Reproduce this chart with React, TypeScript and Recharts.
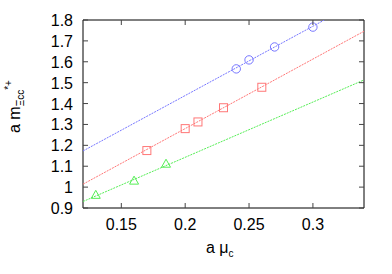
import React from "react";
import { ComposedChart, XAxis, YAxis, Scatter, Line, ReferenceArea } from "recharts";

const xTicks = [0.15, 0.2, 0.25, 0.3];
const yTicks = [0.9, 1.0, 1.1, 1.2, 1.3, 1.4, 1.5, 1.6, 1.7, 1.8];

const bluePoints = [
  { x: 0.24, y: 1.566 },
  { x: 0.25, y: 1.609 },
  { x: 0.27, y: 1.671 },
  { x: 0.3, y: 1.766 },
];
const redPoints = [
  { x: 0.17, y: 1.175 },
  { x: 0.2, y: 1.28 },
  { x: 0.21, y: 1.312 },
  { x: 0.23, y: 1.38 },
  { x: 0.26, y: 1.478 },
];
const greenPoints = [
  { x: 0.13, y: 0.963 },
  { x: 0.16, y: 1.031 },
  { x: 0.185, y: 1.112 },
];
const blueFit = [
  { x: 0.12, y: 1.173 },
  { x: 0.309, y: 1.8 },
];
const redFit = [
  { x: 0.12, y: 1.014 },
  { x: 0.34, y: 1.746 },
];
const greenFit = [
  { x: 0.12, y: 0.931 },
  { x: 0.34, y: 1.513 },
];

const BLUE = "#7777ff";
const RED = "#ff7777";
const GREEN = "#55ee55";
const FONT = "'Liberation Sans', Arial, sans-serif";

const W = 392;
const H = 274;
const M = { top: 20, right: 28, bottom: 0, left: 0 };
const Y_AXIS_W = 83;
const X_AXIS_H = 66;
const PL = M.left + Y_AXIS_W;
const PR = W - M.right;
const PT = M.top;
const PB = H - M.bottom - X_AXIS_H;
const TICK = 5;

const CircleShape = (p: any) => (
  <circle cx={p.cx} cy={p.cy} r={4.2} fill="none" stroke={BLUE} strokeWidth={1} />
);
const SquareShape = (p: any) => (
  <rect x={p.cx - 4} y={p.cy - 4} width={8} height={8} fill="none" stroke={RED} strokeWidth={1} />
);
const TriShape = (p: any) => (
  <polygon
    points={`${p.cx},${p.cy - 4.5} ${p.cx + 4.5},${p.cy + 3.5} ${p.cx - 4.5},${p.cy + 3.5}`}
    fill="none"
    stroke={GREEN}
    strokeWidth={1}
  />
);

const fmtY = (v: number) => String(Number(v.toFixed(1)));
const fmtX = (v: number) => String(Number(v.toFixed(2)));

const XTick = (p: any) => {
  const x = p.x;
  return (
    <g>
      <line x1={x} x2={x} y1={PB} y2={PB - TICK} stroke="#444" strokeWidth={1} />
      <line x1={x} x2={x} y1={PT} y2={PT + TICK} stroke="#444" strokeWidth={1} />
      <text x={x} y={PB + 22} textAnchor="middle" fontFamily={FONT} fontSize={16} fill="#000">
        {fmtX(p.payload.value)}
      </text>
    </g>
  );
};

const YTick = (p: any) => {
  const y = p.y;
  return (
    <g>
      <line x1={PL} x2={PL + TICK} y1={y} y2={y} stroke="#444" strokeWidth={1} />
      <line x1={PR} x2={PR - TICK} y1={y} y2={y} stroke="#444" strokeWidth={1} />
      <text x={PL - 10} y={y + 6} textAnchor="end" fontFamily={FONT} fontSize={16} fill="#000">
        {fmtY(p.payload.value)}
      </text>
    </g>
  );
};

const YLabel = () => (
  <text
    transform="translate(20,133) rotate(-90)"
    fontFamily={FONT}
    fontSize={16}
    fill="#000"
  >
    <tspan>a m</tspan>
    <tspan fontSize={10} dy={4}>Ξcc</tspan>
    <tspan fontSize={10} dy={-12}>*+</tspan>
  </text>
);

const XLabel = () => (
  <text x={206} y={253} fontFamily={FONT} fontSize={16} fill="#000">
    <tspan>a μ</tspan>
    <tspan fontSize={10} dy={4}>c</tspan>
  </text>
);

export default function App() {
  return (
    <div style={{ position: "fixed", left: 0, top: 0, width: W, height: H, background: "#fff" }}>
      <ComposedChart width={W} height={H} margin={M}>
        <XAxis
          xAxisId="b"
          type="number"
          dataKey="x"
          domain={[0.12, 0.34]}
          ticks={xTicks}
          tick={XTick}
          tickLine={false}
          axisLine={false}
          interval={0}
          height={X_AXIS_H}
          allowDataOverflow
        />
        <YAxis
          yAxisId="l"
          type="number"
          dataKey="y"
          domain={[0.9, 1.8]}
          ticks={yTicks}
          tick={YTick}
          tickLine={false}
          axisLine={false}
          interval={0}
          width={Y_AXIS_W}
          allowDataOverflow
        />
        <Line xAxisId="b" yAxisId="l" data={blueFit} dataKey="y" type="linear" stroke={BLUE} strokeWidth={1} strokeDasharray="2 1" dot={false} activeDot={false} isAnimationActive={false} />
        <Line xAxisId="b" yAxisId="l" data={redFit} dataKey="y" type="linear" stroke={RED} strokeWidth={1} strokeDasharray="2 1" dot={false} activeDot={false} isAnimationActive={false} />
        <Line xAxisId="b" yAxisId="l" data={greenFit} dataKey="y" type="linear" stroke={GREEN} strokeWidth={1} strokeDasharray="2 1" dot={false} activeDot={false} isAnimationActive={false} />
        <Scatter xAxisId="b" yAxisId="l" data={bluePoints} dataKey="y" shape={CircleShape} isAnimationActive={false} />
        <Scatter xAxisId="b" yAxisId="l" data={redPoints} dataKey="y" shape={SquareShape} isAnimationActive={false} />
        <Scatter xAxisId="b" yAxisId="l" data={greenPoints} dataKey="y" shape={TriShape} isAnimationActive={false} />
        <ReferenceArea xAxisId="b" yAxisId="l" x1={0.12} x2={0.34} y1={0.9} y2={1.8} fill="none" stroke="#000" strokeWidth={1} ifOverflow="visible" />
        <YLabel />
        <XLabel />
      </ComposedChart>
    </div>
  );
}
